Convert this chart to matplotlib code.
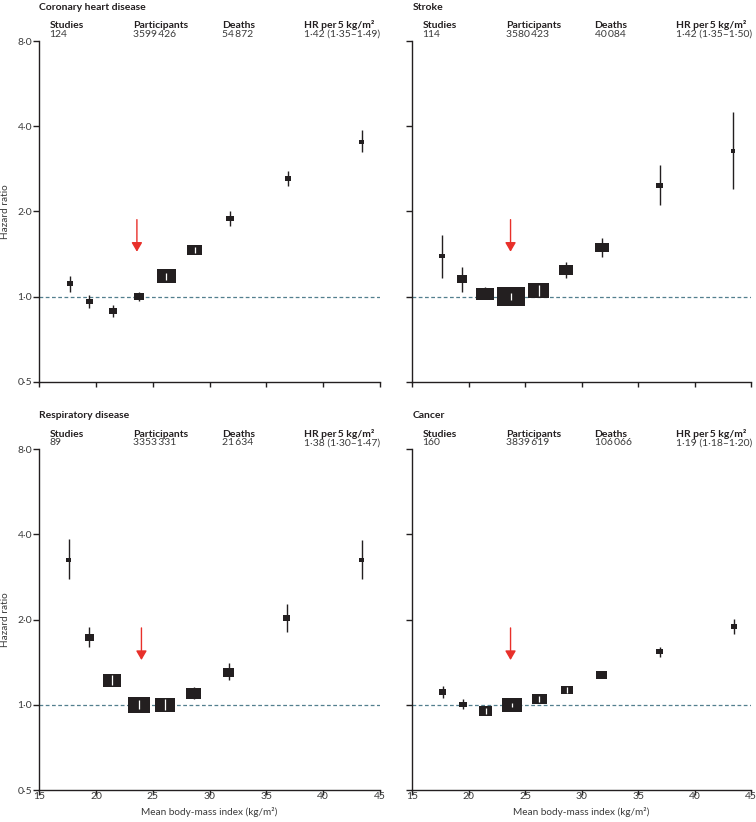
import numpy as np
import matplotlib.pyplot as plt
from matplotlib.patches import Rectangle

plt.rcParams["font.family"] = ["Lato", "DejaVu Sans"]

# mean BMI per category, hazard ratio, 95% CI and relative weight (box area)
chd_bmi = [17.7, 19.4, 21.5, 23.8, 26.2, 28.7, 31.8, 36.9, 43.4]
chd_hr = [1.11, 0.96, 0.89, 1.00, 1.18, 1.46, 1.89, 2.61, 3.53]
chd_lo = [1.04, 0.91, 0.85, 0.965, 1.148, 1.42, 1.78, 2.45, 3.23]
chd_hi = [1.18, 1.01, 0.93, 1.04, 1.21, 1.50, 2.00, 2.78, 3.88]
chd_wt = [3.6, 4.8, 6.3, 10.2, 33.6, 20.3, 4.8, 3.6, 2.3]

stroke_bmi = [17.6, 19.4, 21.4, 23.7, 26.2, 28.6, 31.8, 36.9, 43.4]
stroke_hr = [1.39, 1.155, 1.02, 1.00, 1.05, 1.24, 1.49, 2.47, 3.27]
stroke_lo = [1.16, 1.04, 0.985, 0.97, 1.005, 1.16, 1.385, 2.10, 2.39]
stroke_hi = [1.65, 1.27, 1.08, 1.03, 1.095, 1.32, 1.61, 2.92, 4.49]
stroke_wt = [3.2, 9.0, 29.2, 70.6, 38.4, 18.5, 16.8, 3.6, 1.4]

resp_bmi = [17.6, 19.4, 21.4, 23.8, 26.1, 28.6, 31.7, 36.8, 43.4]
resp_hr = [3.26, 1.735, 1.22, 1.00, 1.00, 1.10, 1.30, 2.03, 3.26]
resp_lo = [2.78, 1.60, 1.175, 0.965, 0.96, 1.047, 1.22, 1.81, 2.78]
resp_hi = [3.86, 1.88, 1.27, 1.04, 1.045, 1.155, 1.40, 2.28, 3.83]
resp_wt = [2.3, 7.8, 29.2, 46.2, 34.8, 21.2, 11.6, 4.4, 2.3]

cancer_bmi = [17.7, 19.5, 21.5, 23.8, 26.25, 28.7, 31.8, 36.9, 43.5]
cancer_hr = [1.11, 1.003, 0.952, 1.00, 1.05, 1.127, 1.277, 1.544, 1.892]
cancer_lo = [1.053, 0.963, 0.929, 0.981, 1.025, 1.097, 1.275, 1.478, 1.773]
cancer_hi = [1.167, 1.047, 0.976, 1.014, 1.076, 1.158, 1.279, 1.599, 2.014]
cancer_wt = [4.0, 5.3, 16.0, 36.0, 19.4, 12.3, 10.9, 5.3, 2.6]

panel_titles = ["Coronary heart disease", "Stroke", "Respiratory disease", "Cancer"]
panel_studies = ["124", "114", "89", "160"]
panel_participants = ["3599\u2009426", "3580\u2009423", "3353\u2009331", "3839\u2009619"]
panel_deaths = ["54\u2009872", "40\u2009084", "21\u2009634", "106\u2009066"]
panel_hr5 = [
    "1\u00b742 (1\u00b735\u20131\u00b749)",
    "1\u00b742 (1\u00b735\u20131\u00b750)",
    "1\u00b738 (1\u00b730\u20131\u00b747)",
    "1\u00b719 (1\u00b718\u20131\u00b720)",
]
header_labels = ["Studies", "Participants", "Deaths", "HR per\u20095 kg/m\u00b2"]

# reference category marked by the red arrow
ref_bmi = [23.6, 23.7, 24.0, 23.7]
arrow_top = 1.87
arrow_tip = 1.44

x_ticks = [15, 20, 25, 30, 35, 40, 45]
y_ticks = [0.5, 1, 2, 4, 8]
y_tick_labels = ["0\u00b75", "1\u00b70", "2\u00b70", "4\u00b70", "8\u00b70"]

INK = "#231f20"
TEXT = "#3a3a3a"
RED = "#e8302a"
DASH = "#527f8e"


def draw_panel(ax, bmi, hr, lo, hi, wt):
    """
    Boxes sized by weight, CI drawn white when it fits inside the box
    """

    inv = ax.transData.inverted()

    for x, h, l, u, w in zip(bmi, hr, lo, hi, wt):

        cx, cy = ax.transData.transform((x, h))

        bw = np.sqrt(w) * 10 / 3

        bh = bw / 1.5 + 0.7

        x0, y0 = inv.transform((cx - bw / 2, cy - bh / 2))

        x1, y1 = inv.transform((cx + bw / 2, cy + bh / 2))

        ax.vlines(x, l, u, color=INK, lw=1.0, zorder=2)

        ax.add_patch(
            Rectangle(
                (x0, y0), x1 - x0, y1 - y0,
                facecolor=INK, edgecolor="none", zorder=3
            )
        )

        if l >= y0 and u <= y1:

            ax.vlines(x, l, u, color="white", lw=0.9, zorder=4)


def style_axes(ax, show_x, show_y):
    """
    Log2 hazard ratio axis, BMI axis
    """

    ax.set_xlim(15, 45)

    ax.set_yscale("log", base=2)

    ax.set_ylim(0.5, 8)

    ax.set_xticks(x_ticks)

    ax.set_yticks(y_ticks)

    ax.minorticks_off()

    ax.set_yticklabels(y_tick_labels if show_y else [])

    ax.set_xticklabels([str(t) for t in x_ticks] if show_x else [])

    for side in ["top", "right"]:

        ax.spines[side].set_visible(False)

    for side in ["left", "bottom"]:

        ax.spines[side].set_color(INK)

        ax.spines[side].set_linewidth(1.0)

    ax.tick_params(axis="y", length=4.3, width=1.0, color=INK,
                   pad=0.8, labelsize=7.5, labelcolor=TEXT)

    ax.tick_params(axis="x", length=3.5, width=1.0, color=INK,
                   pad=-2.0, labelsize=7.5, labelcolor=TEXT)

    ax.axhline(1.0, color=DASH, lw=0.9, ls=(0, (3, 2)), zorder=1)

    if show_x:

        ax.set_xlabel("Mean body-mass index (kg/m\u00b2)",
                      fontsize=7.2, color=TEXT, labelpad=4.5)

    if show_y:

        ax.text(-0.1, 0.5, "Hazard ratio", transform=ax.transAxes,
                rotation=90, ha="center", va="center",
                fontsize=7.2, color=TEXT)


def add_header(ax, k):
    """
    Panel title plus studies / participants / deaths / HR row
    """

    ax.text(0.0, 1.091, panel_titles[k], transform=ax.transAxes,
            fontsize=7.5, fontweight="bold", color=INK, va="baseline")

    cols = [0.03, 0.276, 0.538, 0.778]

    values = [panel_studies[k], panel_participants[k],
              panel_deaths[k], panel_hr5[k]]

    for cx, head, val in zip(cols, header_labels, values):

        ax.text(cx, 1.037, head, transform=ax.transAxes,
                fontsize=7.5, fontweight="bold", color=INK, va="baseline")

        ax.text(cx, 1.012, val, transform=ax.transAxes,
                fontsize=7.5, color=TEXT, va="baseline")


fig = plt.figure(figsize=(7.56, 8.22), dpi=100)

positions = [
    [0.0520, 0.5356, 0.4503, 0.4145],
    [0.5454, 0.5356, 0.4480, 0.4145],
    [0.0520, 0.0389, 0.4503, 0.4145],
    [0.5454, 0.0389, 0.4480, 0.4145],
]

series = [
    (chd_bmi, chd_hr, chd_lo, chd_hi, chd_wt),
    (stroke_bmi, stroke_hr, stroke_lo, stroke_hi, stroke_wt),
    (resp_bmi, resp_hr, resp_lo, resp_hi, resp_wt),
    (cancer_bmi, cancer_hr, cancer_lo, cancer_hi, cancer_wt),
]

for k in range(4):

    ax = fig.add_axes(positions[k])

    style_axes(ax, show_x=k >= 2, show_y=k % 2 == 0)

    draw_panel(ax, *series[k])

    add_header(ax, k)

    ax.annotate(
        "",
        xy=(ref_bmi[k], arrow_tip),
        xytext=(ref_bmi[k], arrow_top),
        arrowprops=dict(
            arrowstyle="-|>,head_length=0.55,head_width=0.32",
            color=RED, lw=1.0, shrinkA=0, shrinkB=0,
            mutation_scale=10
        ),
        zorder=5
    )

fig.savefig("out.png", dpi=100)
